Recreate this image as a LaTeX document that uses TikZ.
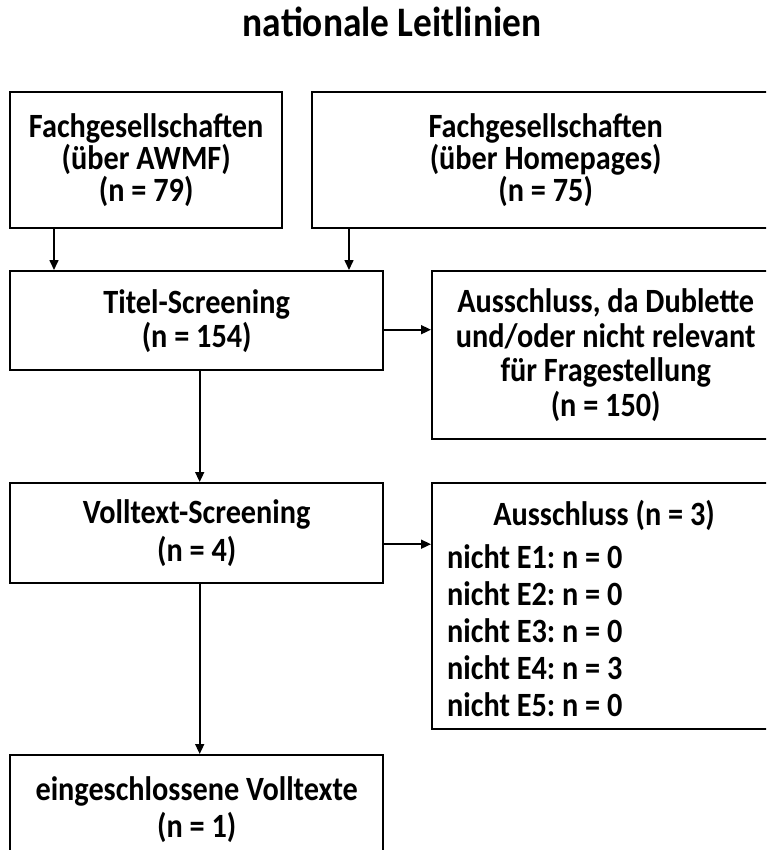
\documentclass[tikz,border=0pt]{standalone}
\usepackage{fontspec}
\setmainfont{Carlito}[FakeStretch=0.89]
\usetikzlibrary{arrows.meta,calc}
\frenchspacing

\begin{document}
\begin{tikzpicture}[x=1pt,y=-1pt,
  box/.style={draw=black,line width=2.4pt,rectangle,inner sep=0pt,align=center,anchor=north west,
    font=\fontsize{34}{29}\selectfont\bfseries},
  txt/.style={inner sep=0pt,font=\fontsize{34}{37}\selectfont\bfseries},
  arr/.style={line width=1.6pt,-{Triangle[length=10pt,width=9pt]}}]
\useasboundingbox (0,0) rectangle (766,850);
\begin{scope}
\clip (0,0) rectangle (766,850);

% title
\node[inner sep=0pt,anchor=base,font=\fontsize{42}{46}\selectfont\bfseries] (title) at (392,37) {nationale Leitlinien};

% sources
\node[box,minimum width=272pt,minimum height=136pt] (awmf) at (9,91)
  {Fachgesellschaften\\(über AWMF)\\(n = 79)};
\node[box,minimum width=467pt,minimum height=136pt] (home) at (311,91)
  {Fachgesellschaften\\(über Homepages)\\(n = 75)};

% screening steps
\node[box,minimum width=373pt,minimum height=99pt,
  font=\fontsize{34}{34}\selectfont\bfseries] (titel) at (9,270)
  {Titel-Screening\\(n = 154)};
\node[box,minimum width=347pt,minimum height=168pt,
  font=\fontsize{34}{34.5}\selectfont\bfseries] (ex1) at (431,270)
  {Ausschluss, da Dublette\\und/oder nicht relevant\\für Fragestellung\\(n = 150)};

\node[box,minimum width=373pt,minimum height=100pt,
  font=\fontsize{34}{38}\selectfont\bfseries] (voll) at (9,482)
  {Volltext-Screening\\(n = 4)};
\node[box,minimum width=347pt,minimum height=246pt] (ex2) at (431,482) {};
\node[txt,anchor=base] (ex2head) at ($(ex2.north west)+(173,43)$) {Ausschluss (n = 3)};
% exclusion reasons, positioned by the baseline of the last line
\node[txt,anchor=base west,align=left] (ex2list) at ($(ex2.north west)+(16,234)$)
  {nicht E1: n = 0\\nicht E2: n = 0\\nicht E3: n = 0\\nicht E4: n = 3\\nicht E5: n = 0};

\node[box,minimum width=373pt,minimum height=108pt,
  font=\fontsize{34}{37}\selectfont\bfseries] (incl) at (9,754)
  {eingeschlossene Volltexte\\(n = 1)};
\end{scope}

% connectors
\draw[arr] ($(awmf.south west)+(45,0)$) -- ($(titel.north west)+(45,0)$);
\draw[arr] ($(home.south west)+(38,0)$) -- ($(titel.north west)+(340,0)$);
\coordinate (t1) at ($(titel.east)+(0,9)$);
\draw[arr] (t1) -- (t1 -| ex1.west);
\draw[arr] ($(titel.south)+(3,0)$) -- ($(voll.north)+(3,0)$);
\coordinate (v1) at ($(voll.east)+(0,11)$);
\draw[arr] (v1) -- (v1 -| ex2.west);
\draw[arr] ($(voll.south)+(3,0)$) -- ($(incl.north)+(3,0)$);
\end{tikzpicture}
\end{document}
